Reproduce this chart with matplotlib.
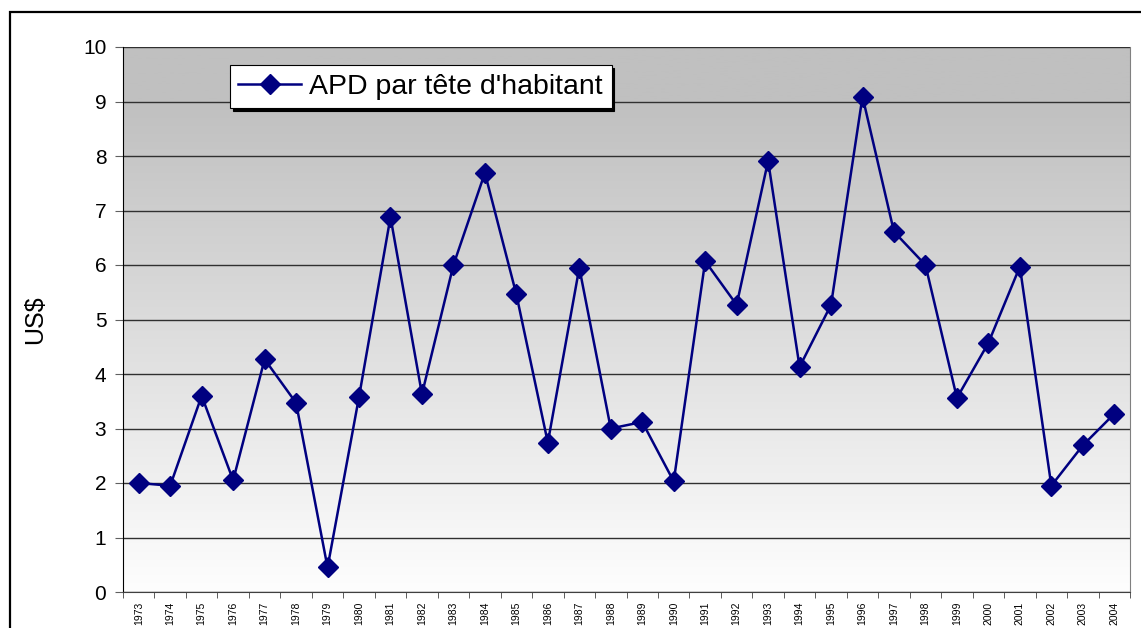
import numpy as np
from matplotlib import pyplot as plt
from matplotlib.patches import Rectangle

years = [str(y) for y in range(1973, 2005)]
apd = [2.0, 1.95, 3.6, 2.05, 4.27, 3.47, 0.45, 3.58, 6.88, 3.63, 6.0, 7.69,
       5.46, 2.74, 5.95, 3.0, 3.12, 2.03, 6.07, 5.27, 7.91, 4.13, 5.27, 9.09,
       6.61, 6.0, 3.56, 4.57, 5.97, 1.95, 2.69, 3.27]

plt.rcParams['font.family'] = ['Liberation Sans', 'DejaVu Sans']

fig = plt.figure(figsize=(11.41, 6.28), dpi=100)
ax = fig.add_axes([123 / 1141, 36 / 628, 1007 / 1141, 545 / 628])

# outer chart border
fig.patches.append(Rectangle((10 / 1141, -0.05), 1.2, 1 - 12 / 628 + 0.05,
                             transform=fig.transFigure, fill=False,
                             edgecolor='black', linewidth=1.6))

# gradient background grey -> white
grad = np.linspace(0, 1, 256).reshape(-1, 1)
cmap = plt.matplotlib.colors.LinearSegmentedColormap.from_list(
    'g', [(0, '#fefefe'), (0.9, '#c0c0c0'), (1, '#c0c0c0')])
ax.imshow(grad, aspect='auto', cmap=cmap, origin='lower',
          extent=[0, 1, 0, 1], transform=ax.transAxes, zorder=0)

x = np.arange(len(years))
ax.plot(x, apd, color='#000080', linewidth=1.8, marker='D', markersize=10,
        label="APD par tête d'habitant", zorder=3)

ax.set_xlim(-0.5, len(years) - 0.5)
ax.set_ylim(0, 10)
ax.set_yticks(range(0, 11))
ax.yaxis.grid(True, color='#303030', linewidth=1)
ax.set_axisbelow(True)

ax.set_xticks(x)
ax.set_xticklabels(years, rotation=90, fontsize=7.5)
ax.set_xticks(np.arange(-0.5, len(years)), minor=True)
ax.tick_params(axis='x', which='major', length=0, pad=7)
ax.tick_params(axis='x', which='minor', length=4, color='#404040')
ax.tick_params(axis='y', labelsize=15, length=6, color='#606060', pad=6)

ax.spines['top'].set_visible(False)
ax.spines['right'].set_color('#808080')
ax.spines['bottom'].set_color('#404040')
ax.spines['left'].set_color('black')

ax.set_ylabel('US$', fontsize=18, labelpad=26)

leg = ax.legend(loc='upper left', bbox_to_anchor=(0.106, 0.967), borderaxespad=0,
                fontsize=20.5, frameon=True, fancybox=False, framealpha=1,
                edgecolor='black', handlelength=2.2, handletextpad=0.3,
                borderpad=0.3, shadow={'color': 'black', 'alpha': 1})
leg.get_frame().set_linewidth(0.8)

plt.savefig('out.png', dpi=100)
